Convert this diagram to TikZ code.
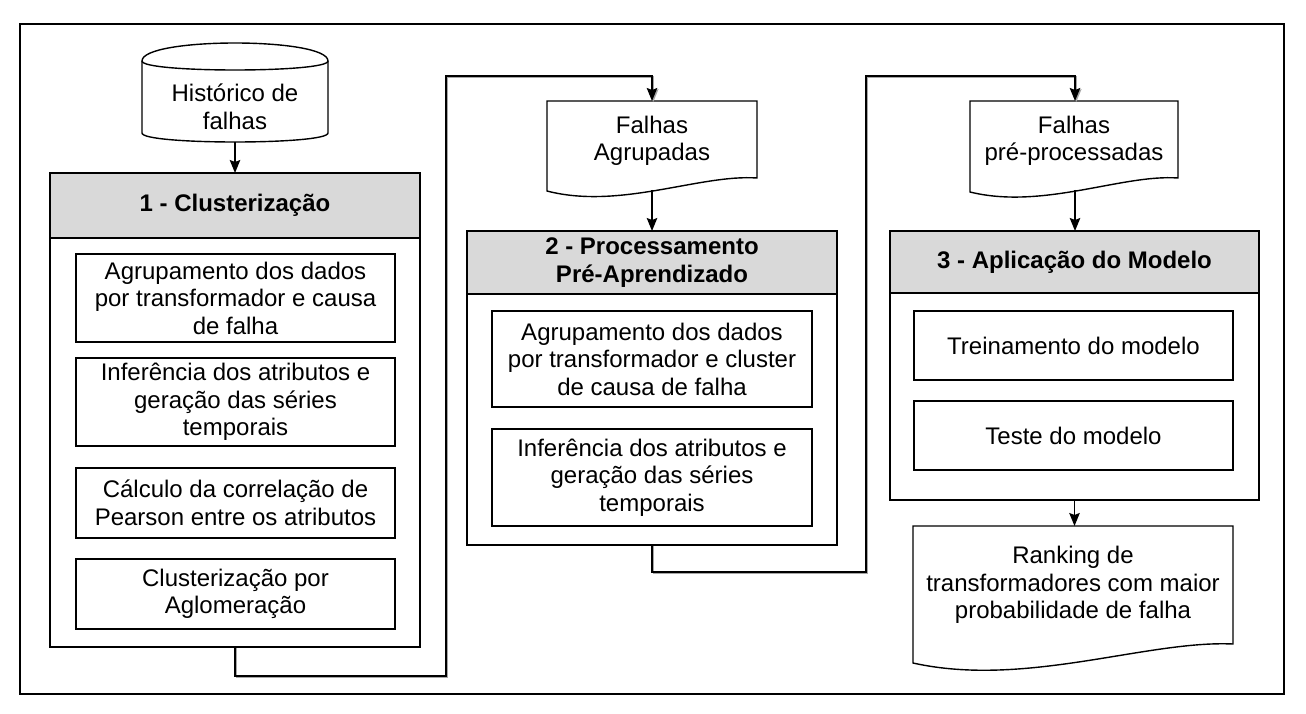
\documentclass[tikz,border=0pt]{standalone}
\usepackage{fontspec}
\setmainfont{Liberation Sans}
\usetikzlibrary{arrows.meta}
\definecolor{hdr}{RGB}{217,217,217}
\newcommand\dgfont{\fontsize{24}{27.5}\selectfont}
\begin{document}
\begin{tikzpicture}[x=1pt,y=-1pt,
  every node/.style={inner sep=0pt, outer sep=0pt},
  ln/.style={line width=1.4pt, draw=black},
  rbox/.style n args={2}{ln, fill=white, minimum width=#1, minimum height=#2, anchor=north west},
  hbox/.style n args={2}{rbox={#1}{#2}, fill=hdr},
  txt/.style={font=\dgfont, align=center, text=black},
  htxt/.style={font=\dgfont\bfseries, align=center, text=black},
  arr/.style={ln, line width=1.5pt, -{Stealth[length=13pt,width=10.5pt,inset=2pt]}},
  conn/.style={arr, preaction={draw=black!35, line width=1.4pt, transform canvas={shift={(1.2pt,-1.2pt)}}}}
]
\useasboundingbox (0,0) rectangle (1306,714);
% outer frame
\node[rbox={1264pt}{670pt}] (frame) at (20,24) {};

% cylinder
\draw[ln, fill=white] (142,61) .. controls (142,37) and (328,37) .. (328,61) -- (328,133) .. controls (328,145) and (142,145) .. (142,133) -- cycle;
\draw[ln] (142,61) .. controls (142,73) and (328,73) .. (328,61);
\node[txt] (cyl) at (235,107) {Histórico de\\falhas};
\coordinate (cylb) at (235,142);

% container 1
\node[rbox={370pt}{474pt}] (c1) at (50,173) {};
\node[hbox={370pt}{65pt}] (h1) at (50,173) {};
\node[htxt] (h1t) at (h1.center) {1 - Clusterização};
\node[rbox={319pt}{88pt}] (b1a) at (76,254) {};
\node[txt] (b1at) at (b1a.center) {Agrupamento dos dados\\por transformador e causa\\de falha};
\node[rbox={319pt}{88pt}] (b1b) at (76,358) {};
\node[txt] (b1bt) at (b1b.center) {Inferência dos atributos e\\geração das séries\\temporais};
\node[rbox={319pt}{70pt}] (b1c) at (76,468) {};
\node[txt] (b1ct) at (b1c.center) {Cálculo da correlação de\\Pearson entre os atributos};
\node[rbox={319pt}{70pt}] (b1d) at (76,559) {};
\node[txt] (b1dt) at (b1d.center) {Clusterização por\\Aglomeração};

% document 1
\node[minimum width=210pt, minimum height=90pt, anchor=north west] (d1) at (547,101) {};
\draw[ln, fill=white] (547,101) -- (757,101) -- (757,178) .. controls (700,174) and (620,210) .. (547,191) -- cycle;
\node[txt] (d1t) at (652,141) {Falhas\\Agrupadas};
\coordinate (d1b) at (652,190);

% container 2
\node[rbox={370pt}{314pt}] (c2) at (467,231) {};
\node[hbox={370pt}{63pt}] (h2) at (467,231) {};
\node[htxt] (h2t) at (h2.center) {2 - Processamento\\Pré-Aprendizado};
\node[rbox={320pt}{96pt}] (b2a) at (492,311) {};
\node[txt] (b2at) at (b2a.center) {Agrupamento dos dados\\por transformador e cluster\\de causa de falha};
\node[rbox={320pt}{97pt}] (b2b) at (492,429) {};
\node[txt] (b2bt) at (b2b.center) {Inferência dos atributos e\\geração das séries\\temporais};

% document 2
\node[minimum width=208pt, minimum height=90pt, anchor=north west] (d2) at (970,101) {};
\draw[ln, fill=white] (970,101) -- (1178,101) -- (1178,178) .. controls (1122,174) and (1043,210) .. (970,192) -- cycle;
\node[txt] (d2t) at (1074,141) {Falhas\\pré-processadas};
\coordinate (d2b) at (1075,190);

% container 3
\node[rbox={369pt}{269pt}] (c3) at (890,231) {};
\node[hbox={369pt}{62pt}] (h3) at (890,231) {};
\node[htxt] (h3t) at (h3.center) {3 - Aplicação do Modelo};
\node[rbox={319pt}{69pt}] (b3a) at (914,311) {};
\node[txt] (b3at) at (b3a.center) {Treinamento do modelo};
\node[rbox={319pt}{69pt}] (b3b) at (914,401) {};
\node[txt] (b3bt) at (b3b.center) {Teste do modelo};

% document 3
\node[minimum width=320pt, minimum height=137pt, anchor=north west] (d3) at (913,526) {};
\draw[ln, fill=white] (913,526) -- (1233,526) -- (1233,644) .. controls (1147,640) and (1025,688) .. (913,663) -- cycle;
\node[txt] (d3t) at (1073,585) {Ranking de\\transformadores com maior\\probabilidade de falha};

% connectors
\coordinate (j1) at (446,676);
\coordinate (j2) at (652,76);
\coordinate (j3) at (866,572);
\coordinate (j4) at (1075,76);
\draw[arr] (cylb) -- (c1.north);
\draw[conn] (c1.south) |- (j1) |- (j2) -- (d1.north);
\draw[arr] (d1b) -- (c2.north);
\draw[conn] (c2.south) |- (j3) |- (j4) -- (j4 |- d2.north);
\draw[arr] (d2b) -- (d2b |- c3.north);
\draw[arr] (c3.south) -- (c3.south |- d3.north);
\end{tikzpicture}
\end{document}
